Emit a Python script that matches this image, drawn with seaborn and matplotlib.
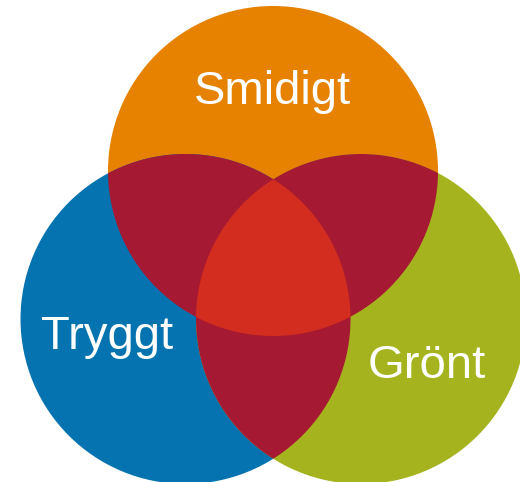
import numpy as np
import matplotlib.pyplot as plt
from matplotlib.patches import Circle, Polygon
import seaborn as sns

sns.set_theme(style="white")
plt.rcParams["font.family"] = ["Liberation Sans", "DejaVu Sans"]

# sets of the venn diagram
labels = ["Smidigt", "Tryggt", "Grönt"]
set_colors = ["#E68200", "#0573AF", "#A5B41E"]
pair_color = "#A51932"
core_color = "#D22D1E"

# layout (pixel coords, y downward)
centers = [(273, 171), (185.5, 319), (361, 319)]
radius = 165
label_pos = [(272, 92), (107, 337), (427, 366)]

fig = plt.figure(figsize=(5.2, 4.82), dpi=100)
ax = fig.add_axes([0, 0, 1, 1])
ax.set_xlim(0, 520)
ax.set_ylim(482, 0)
ax.set_aspect("equal")
ax.axis("off")

circles = []
for (cx, cy), col in zip(centers, set_colors):
    c = Circle((cx, cy), radius, facecolor=col, edgecolor="none")
    ax.add_patch(c)
    circles.append(c)

# pairwise overlaps
for i in range(3):
    for j in range(i + 1, 3):
        p = Circle(centers[j], radius, facecolor=pair_color, edgecolor="none")
        ax.add_patch(p)
        p.set_clip_path(circles[i])

# triple overlap: boundary points of each circle inside the other two
pts = []
t = np.linspace(0, 2 * np.pi, 2000)
for i, (cx, cy) in enumerate(centers):
    xs = cx + radius * np.cos(t)
    ys = cy + radius * np.sin(t)
    keep = np.ones_like(xs, dtype=bool)
    for j, (ox, oy) in enumerate(centers):
        if j != i:
            keep &= (xs - ox) ** 2 + (ys - oy) ** 2 <= radius ** 2 + 1e-6
    pts.append(np.column_stack([xs[keep], ys[keep]]))
pts = np.vstack(pts)
mid = np.mean(centers, axis=0)
order = np.argsort(np.arctan2(pts[:, 1] - mid[1], pts[:, 0] - mid[0]))
ax.add_patch(Polygon(pts[order], closed=True, facecolor=core_color, edgecolor="none"))

for lab, (x, y) in zip(labels, label_pos):
    ax.text(x, y, lab, color="white", fontsize=34, ha="center", va="center")

fig.savefig("out.png", dpi=100)
